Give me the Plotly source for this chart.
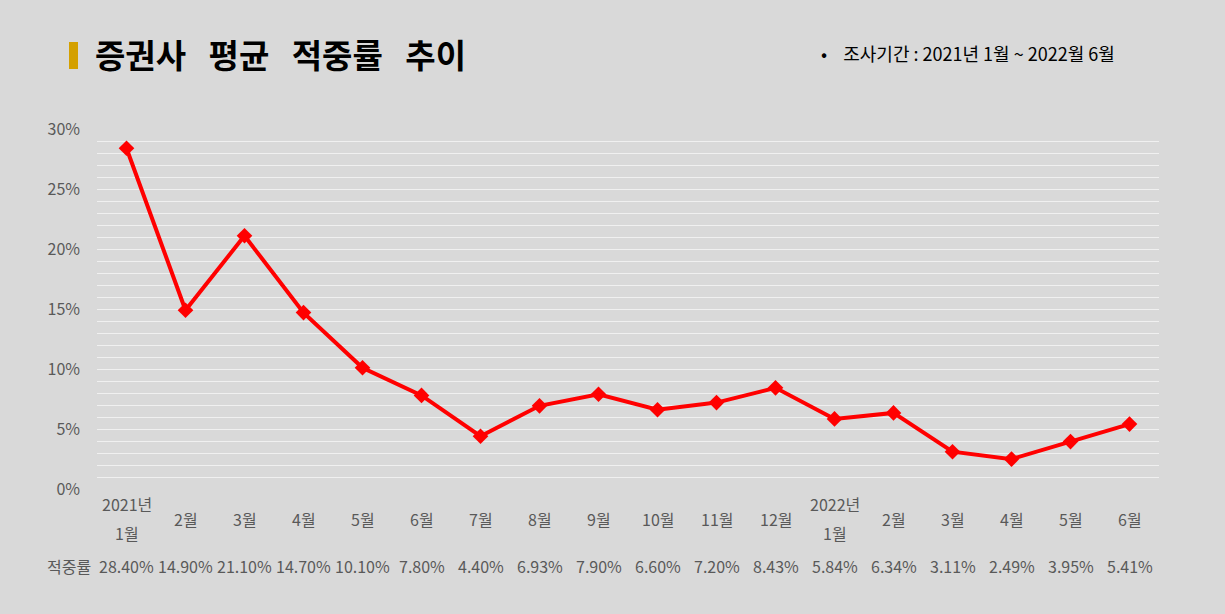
import plotly.graph_objects as go

months = ["2021년<br>1월", "2월", "3월", "4월", "5월", "6월", "7월", "8월", "9월",
          "10월", "11월", "12월", "2022년<br>1월", "2월", "3월", "4월", "5월", "6월"]
hit_rate = [28.40, 14.90, 21.10, 14.70, 10.10, 7.80, 4.40, 6.93, 7.90,
            6.60, 7.20, 8.43, 5.84, 6.34, 3.11, 2.49, 3.95, 5.41]
y_ticks = [0, 5, 10, 15, 20, 25, 30]
row_label = "적중률"
title = "증권사\u00a0\u00a0 평균\u00a0\u00a0 적중률\u00a0\u00a0 추이"
subtitle = "•\u00a0\u00a0\u00a0 조사기간 : 2021년 1월 ~ 2022월 6월"

FONT = "Noto Sans CJK KR"
GREY = "#595959"
W, H = 1225, 614
ML, MR, MT, MB = 97, 66, 129, 125
PW, PH = W - ML - MR, H - MT - MB
xs = list(range(len(months)))


def px(x):
    return (x - ML) / PW


def py(y):
    return (H - MB - y) / PH


fig = go.Figure()
fig.add_trace(go.Scatter(
    x=xs, y=hit_rate, mode="lines+markers",
    line=dict(color="#ff0000", width=4),
    marker=dict(symbol="diamond", size=12, color="#ff0000"),
    hoverinfo="skip", showlegend=False,
))

fig.update_layout(
    width=W, height=H,
    paper_bgcolor="#d9d9d9", plot_bgcolor="#d9d9d9",
    margin=dict(l=ML, r=MR, t=MT, b=MB),
    font=dict(family=FONT, size=16, color=GREY),
    xaxis=dict(range=[-0.5, len(months) - 0.5], showgrid=False, zeroline=False,
               showticklabels=False, showline=False, ticks=""),
    yaxis=dict(range=[0, 30], tickvals=y_ticks, ticktext=[f"{v}%" for v in y_ticks],
               showgrid=False, zeroline=False, showline=False, ticks="",
               ticklabelstandoff=16,
               tickfont=dict(family=FONT, size=16, color=GREY),
               minor=dict(dtick=1, showgrid=True, gridcolor="#f0f0f0", gridwidth=1.3)),
)

ann = []


def add(x, xref, y, text, size=16, color=GREY, anchor="center"):
    ann.append(dict(x=x, xref=xref, y=py(y), yref="paper", text=text, showarrow=False,
                    xanchor=anchor, yanchor="middle",
                    font=dict(family=FONT, size=size, color=color)))


for i, m in enumerate(months):
    if "<br>" in m:
        top, bottom = m.split("<br>")
        add(i, "x", 504, top)
        add(i, "x", 533, bottom)
    else:
        add(i, "x", 519, m)
    add(i, "x", 566, f"{hit_rate[i]:.2f}%")

add(px(69), "paper", 566, row_label)
add(px(93), "paper", 54, f"<b>{title}</b>", size=33, color="#000000", anchor="left")
add(px(819), "paper", 53, subtitle, size=18, color="#000000", anchor="left")
fig.update_layout(annotations=ann)

fig.add_shape(type="rect", xref="paper", yref="paper",
              x0=px(69), x1=px(78), y0=py(69), y1=py(42),
              fillcolor="#d4a000", line=dict(width=0))

fig.write_html("out.html")
